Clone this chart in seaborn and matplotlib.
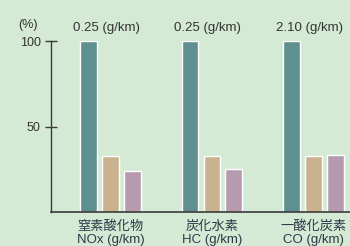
import matplotlib
matplotlib.use("Agg")
import matplotlib.pyplot as plt
import seaborn as sns
import pandas as pd

categories = ["窒素酸化物\nNOx (g/km)", "炭化水素\nHC (g/km)", "一酸化炭素\nCO (g/km)"]
series = ["基準", "A", "B"]
values_base = [100, 100, 100]
values_a = [33, 33, 33]
values_b = [24, 25, 33.5]
top_labels = ["0.25 (g/km)", "0.25 (g/km)", "2.10 (g/km)"]
yticks = [50, 100]

rows = []
for i, c in enumerate(categories):
    for s, v in zip(series, [values_base[i], values_a[i], values_b[i]]):
        rows.append({"cat": c, "series": s, "value": v})
df = pd.DataFrame(rows)

sns.set_style("white")
fam = ['Liberation Sans', 'Noto Sans CJK JP', 'DejaVu Sans']
plt.rcParams['font.family'] = fam

bg = "#d4ead5"
fig = plt.figure(figsize=(3.5, 2.46), dpi=100, facecolor=bg)
ax = fig.add_axes([51/350, 34/246, 1 - 51/350, (212-41)/246])
ax.set_facecolor(bg)

palette = {"基準": "#5f9090", "A": "#cbb28f", "B": "#b69bb0"}
sns.barplot(data=df, x="cat", y="value", hue="series", palette=palette,
            width=0.65, gap=0.23, ax=ax, legend=False, saturation=1)

ax.set_xlim(-0.586, 2.36)
ax.set_ylim(0, 100)
ax.set_xlabel("")
ax.set_ylabel("")

for sp in ["top", "right"]:
    ax.spines[sp].set_visible(False)
ax.spines["left"].set_color("#3a3a3a")
ax.spines["bottom"].set_color("#3a3a3a")
ax.spines["left"].set_linewidth(1.0)
ax.spines["bottom"].set_linewidth(1.2)

ax.set_yticks(yticks)
ax.set_yticklabels([str(t) for t in yticks], fontsize=9, color="#333333")
ax.tick_params(axis="y", direction="inout", length=9, width=1.0, color="#3a3a3a", pad=3, left=True)
ax.tick_params(axis="x", length=0, pad=6)
ax.set_xticks(range(len(categories)))
ax.set_xticklabels(categories, fontsize=9.5, color="#2e3a48", linespacing=1.12)

for i, t in enumerate(top_labels):
    ax.annotate(t, xy=(i - 0.04, 100), xytext=(0, 9.5), textcoords="offset points",
                ha="center", va="center", fontsize=9.5, color="#333333", annotation_clip=False)

fig.text(28/350, 1 - 25/246, "(%)", ha="center", va="center", fontsize=9, color="#333333")

fig.savefig("out.png", dpi=100, facecolor=bg)
